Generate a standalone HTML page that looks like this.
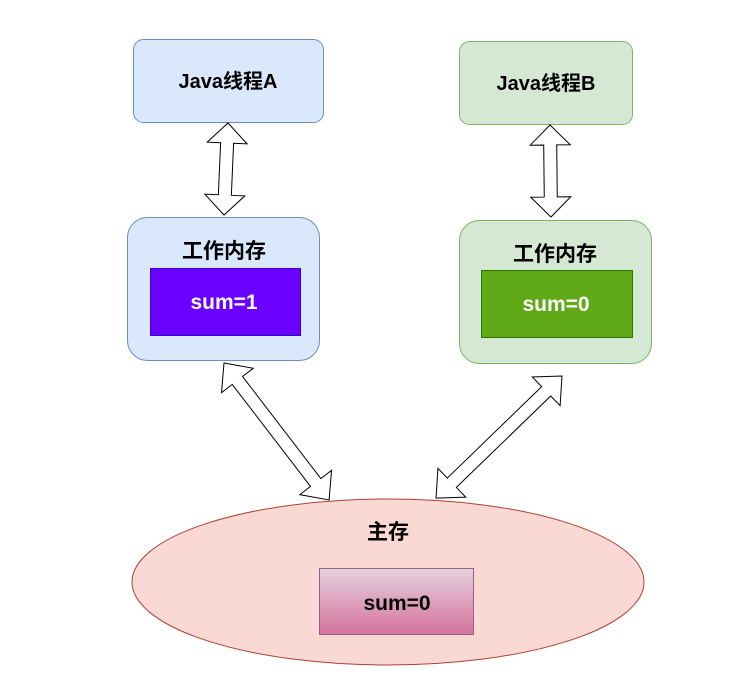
<!DOCTYPE html>
<html><head><meta charset="utf-8"><style>body{margin:0;background:#fff}svg{display:block}text{font-family:"Liberation Sans","Noto Sans CJK SC",sans-serif;font-weight:bold;text-anchor:middle}</style></head><body>
<svg width="741" height="681" viewBox="0 0 741 681">
<defs><linearGradient id="g" x1="0" y1="0" x2="0" y2="1"><stop offset="0" stop-color="#e6d0de"/><stop offset="1" stop-color="#d5739d"/></linearGradient></defs>
<rect x="133.5" y="39.5" width="190" height="83" rx="10" fill="#dae8fc" stroke="#6c8ebf"/>
<text x="228" y="88" font-size="20">Java线程A</text>
<rect x="459.5" y="41.5" width="173" height="83" rx="10" fill="#d5e8d4" stroke="#82b366"/>
<text x="546" y="90" font-size="20">Java线程B</text>
<rect x="127.5" y="217.5" width="192" height="143" rx="20" fill="#dae8fc" stroke="#6c8ebf"/>
<text x="224" y="258" font-size="21">工作内存</text>
<rect x="150.5" y="268.5" width="150" height="67" fill="#6a00ff" stroke="#3700cc"/>
<text x="224" y="309" font-size="21" fill="#fff">sum=1</text>
<rect x="459.5" y="220.5" width="192" height="143" rx="20" fill="#d5e8d4" stroke="#82b366"/>
<text x="555" y="261" font-size="21">工作内存</text>
<rect x="481.5" y="270.5" width="151" height="67" fill="#60a917" stroke="#2d7600"/>
<text x="556" y="311" font-size="21" fill="#fff">sum=0</text>
<ellipse cx="388" cy="582" rx="256" ry="83" fill="#fad9d5" stroke="#ae4132"/>
<text x="388" y="539" font-size="21">主存</text>
<rect x="319.5" y="568.5" width="154" height="66" fill="url(#g)" stroke="#996185"/>
<text x="397" y="610" font-size="21">sum=0</text>
<g fill="#fff" stroke="#000" stroke-width="1">
<polygon transform="translate(228,123) rotate(92.5)" points="0,0 20,-20 20,-6.5 72.1,-6.5 72.1,-20 92.1,0 72.1,20 72.1,6.5 20,6.5 20,20"/>
<polygon transform="translate(550,125) rotate(89.4)" points="0,0 20,-20 20,-6.5 72,-6.5 72,-20 92,0 72,20 72,6.5 20,6.5 20,20"/>
<polygon transform="translate(224,363) rotate(52.5)" points="0,0 22,-20 22,-6.5 150.6,-6.5 150.6,-20 172.6,0 150.6,20 150.6,6.5 22,6.5 22,20"/>
<polygon transform="translate(562,376) rotate(135.9)" points="0,0 22,-20 22,-6.5 153.4,-6.5 153.4,-20 175.4,0 153.4,20 153.4,6.5 22,6.5 22,20"/>
</g>
</svg></body></html>
